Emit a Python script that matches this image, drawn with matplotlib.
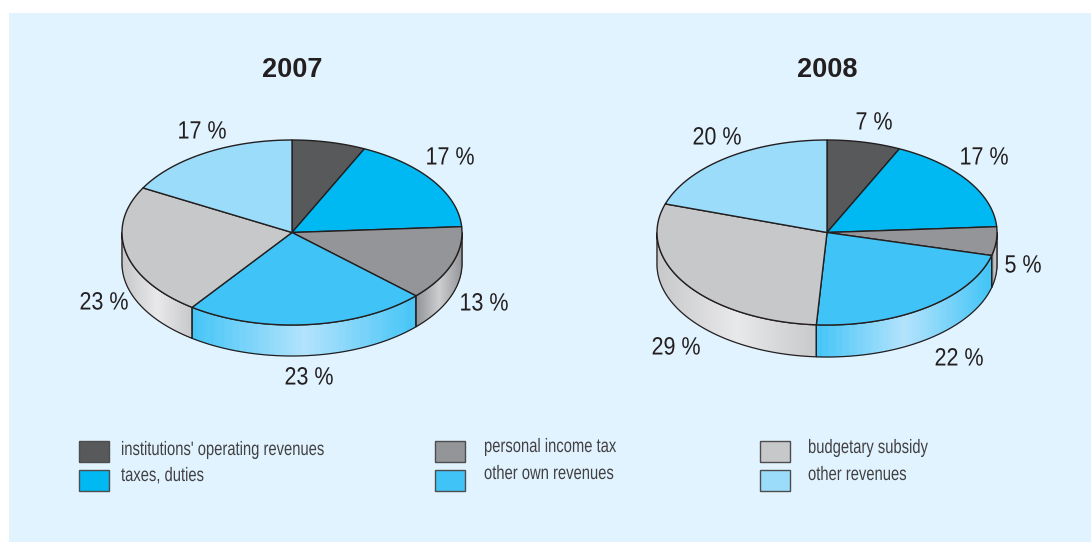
import numpy as np
import matplotlib
matplotlib.use("Agg")
import matplotlib.pyplot as plt
from matplotlib.colors import to_rgb
from matplotlib.patches import Polygon, Rectangle
from matplotlib.collections import PolyCollection
from matplotlib.patheffects import AbstractPathEffect
from matplotlib.transforms import Affine2D

categories = ["institutions' operating revenues", "taxes, duties", "personal income tax",
              "other own revenues", "budgetary subsidy", "other revenues"]
share_2007 = [7, 17, 13, 23, 23, 17]
share_2008 = [7, 17, 5, 22, 29, 20]
top_colors = ["#58595b", "#00b9f2", "#939598", "#40c4f7", "#c7c8ca", "#9bdcfa"]
side_light = ["#a0a1a4", "#7fd8f8", "#cdced0", "#b2e3fc", "#e9e9ea", "#cfeefc"]
INK = "#231f20"
SANS = ["Liberation Sans", "DejaVu Sans"]

fig = plt.figure(figsize=(10.91, 5.42), dpi=100, facecolor="white")
ax = fig.add_axes([0, 0, 1, 1])
ax.set_xlim(0, 1091)
ax.set_ylim(542, 0)
ax.axis("off")
ax.add_patch(Rectangle((9, 13), 1082, 529, facecolor="#e1f3fe", edgecolor="none", zorder=0))


class Condensed(AbstractPathEffect):
    """Narrows glyphs horizontally about a fixed x position, for a condensed face."""

    def __init__(self, x_data, factor):
        super().__init__()
        self.x_data = x_data
        self.factor = factor

    def draw_path(self, renderer, gc, tpath, affine, rgbFace=None):
        xa = ax.transData.transform((self.x_data, 0))[0]
        squeeze = Affine2D().translate(-xa, 0).scale(self.factor, 1).translate(xa, 0)
        renderer.draw_path(gc, tpath, affine + squeeze, rgbFace)


def rim(cx, cy, rx, ry, a0, a1, n=160):
    """Points on the ellipse, angles in degrees clockwise from the top."""
    t = np.radians(np.linspace(a0, a1, n))
    return np.column_stack([cx + rx * np.sin(t), cy - ry * np.cos(t)])


def draw_pie(values, cx, cy, rx, ry, depth):
    edges = np.cumsum([0] + list(values)) * 3.6

    # Cylinder wall: only the front half (90..270 degrees) is visible
    for k, (a0, a1) in enumerate(zip(edges[:-1], edges[1:])):
        lo, hi = max(a0, 90), min(a1, 270)
        if hi <= lo:
            continue
        pts = rim(cx, cy, rx, ry, lo, hi, 200)
        x0, x1 = pts[:, 0].min(), pts[:, 0].max()
        base = np.array(to_rgb(top_colors[k]))
        light = np.array(to_rgb(side_light[k]))
        quads, shades = [], []
        for p, q in zip(pts[:-1], pts[1:]):
            quads.append([p, q, q + [0, depth], p + [0, depth]])
            u = ((p[0] + q[0]) / 2 - x0) / max(x1 - x0, 1e-6)
            shades.append(base + (light - base) * (1 - abs(2 * u - 1)))
        ax.add_collection(PolyCollection(quads, facecolors=shades, edgecolors=shades,
                                         linewidths=0.4, zorder=2))
        ax.add_patch(Polygon(np.vstack([pts, (pts + [0, depth])[::-1]]), closed=True,
                             fill=False, edgecolor=INK, linewidth=0.9, zorder=3))

    # Top face slices
    for k, (a0, a1) in enumerate(zip(edges[:-1], edges[1:])):
        pts = rim(cx, cy, rx, ry, a0, a1, 120)
        ax.add_patch(Polygon(np.vstack([[cx, cy], pts]), closed=True, facecolor=top_colors[k],
                             edgecolor=INK, linewidth=1.0, joinstyle="round", zorder=4))


draw_pie(share_2007, 292, 232.5, 170, 92.5, 31)
draw_pie(share_2008, 827, 232.5, 170, 92.5, 32)

# Chart titles
for year, x in (("2007", 292), ("2008", 827)):
    ax.text(x, 70, year, ha="center", va="center", fontsize=19.5, fontweight="bold",
            family=SANS, color=INK, zorder=5)

# Percentage labels placed around each pie
labels_2007 = [(202, 131.5), (450, 157.5), (484, 303.5), (309, 377.5), (104, 302.5)]
shares_2007 = [17, 17, 13, 23, 23]
labels_2008 = [(874, 122.5), (984, 157.5), (1023, 265.5), (959, 358.5), (676, 347.5), (717, 137.5)]
shares_2008 = [7, 17, 5, 22, 29, 20]
for (x, y), s in list(zip(labels_2007, shares_2007)) + list(zip(labels_2008, shares_2008)):
    ax.text(x, y, f"{s} %", ha="center", va="center", fontsize=18, family=SANS,
            color=INK, zorder=5, path_effects=[Condensed(x, 0.86)])

# Legend in three columns of two entries
swatches = [(79, 441), (79, 470), (435, 441), (435, 470), (760, 441), (760, 470)]
captions = [(121, 450.5), (121, 476.5), (484, 447.5), (484, 474.5), (808, 448.5), (808, 475.5)]
for k, name in enumerate(categories):
    sx, sy = swatches[k]
    ax.add_patch(Rectangle((sx, sy), 30, 21, facecolor=top_colors[k], edgecolor="#4d4d4f",
                           linewidth=1.0, zorder=5))
    cx, cy = captions[k]
    ax.text(cx, cy, name, ha="left", va="center", fontsize=14, family=SANS,
            color="#414042", zorder=5, path_effects=[Condensed(cx, 0.76)])

fig.savefig("out.png", dpi=100, facecolor="white")
